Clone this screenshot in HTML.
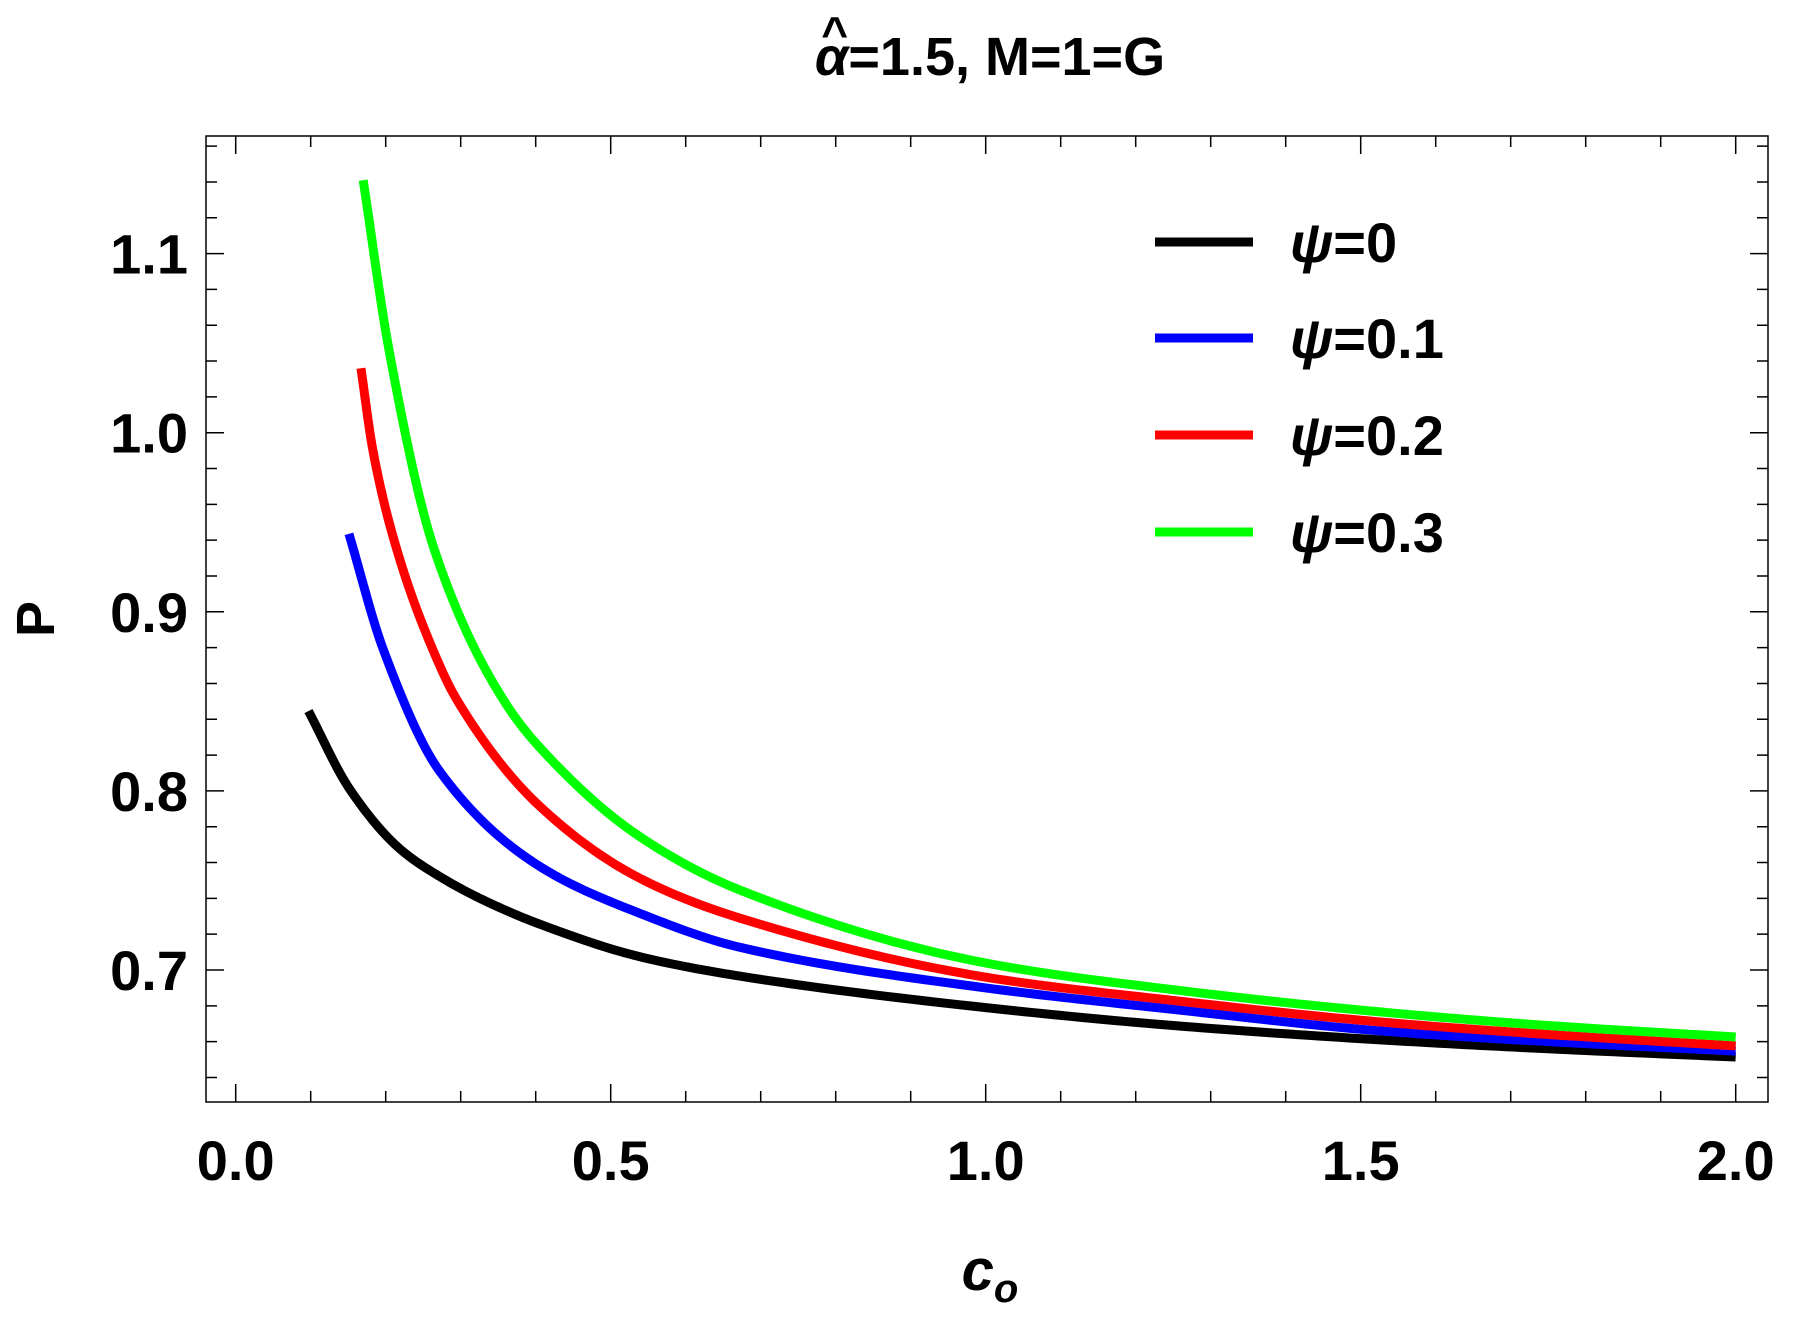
<!DOCTYPE html>
<html><head><meta charset="utf-8"><style>
body{margin:0;background:#fff}
svg{display:block}
text{font-family:"Liberation Sans",Arial,sans-serif;font-weight:bold;fill:#000}
</style></head><body>
<svg id="chart" width="1797" height="1324" viewBox="0 0 1797 1324" xmlns="http://www.w3.org/2000/svg">
<rect x="0" y="0" width="1797" height="1324" fill="#fff"/>
<g>
<text id="ttl" x="990" y="75" font-size="54" text-anchor="middle"><tspan font-style="italic">α</tspan>=1.5, M=1=G</text>
<text id="hat" x="818" y="52" font-size="46" text-anchor="middle">^</text>
</g>
<text transform="translate(54,619) rotate(-90)" font-size="54" text-anchor="middle">P</text>
<text x="990" y="1290" font-size="58" text-anchor="middle" font-style="italic">c<tspan font-size="40" dy="12">o</tspan></text>
<g id="axes"></g>
<g id="series"></g>
<g id="legend"></g>
</svg>
<script>
const xTicks=[0,0.5,1.0,1.5,2.0];
const xTickLabels=["0.0","0.5","1.0","1.5","2.0"];
const yTicks=[0.7,0.8,0.9,1.0,1.1];
const yTickLabels=["0.7","0.8","0.9","1.0","1.1"];
const seriesNames=["ψ=0","ψ=0.1","ψ=0.2","ψ=0.3"];
const seriesColors=["#000000","#0000ff","#ff0000","#00ff00"];
const cBlack=[0.097,0.152,0.219,0.2724,0.330,0.406,0.539,0.672,1.0,1.25,1.526,1.75,2.0];
const pBlack=[0.8446,0.801,0.7676,0.7521,0.7391,0.7255,0.7074,0.6966,0.679,0.669,0.661,0.656,0.6514];
const cBlue=[0.151,0.197,0.2724,0.406,0.539,0.672,1.0,1.25,1.526,1.75,2.0];
const pBlue=[0.9435,0.8787,0.8107,0.7577,0.7316,0.7127,0.690,0.678,0.666,0.660,0.6547];
const cRed=[0.167,0.183,0.215,0.263,0.295,0.406,0.539,0.672,1.0,1.25,1.526,1.75,2.0];
const pRed=[1.036,0.990,0.9345,0.8787,0.8508,0.7912,0.7512,0.729,0.696,0.683,0.671,0.664,0.6576];
const cGreen=[0.170,0.2045,0.265,0.357,0.406,0.539,0.672,1.0,1.25,1.526,1.75,2.0];
const pGreen=[1.141,1.046,0.9345,0.8508,0.824,0.7744,0.7447,0.7039,0.689,0.6766,0.669,0.6626];

const NS="http://www.w3.org/2000/svg";
const L=206,R=1768,T=136,B=1102;
const X=v=>235.7+v*750;
const Y=v=>970-(v-0.7)*1791;
function mk(tag,attrs,parent){const e=document.createElementNS(NS,tag);for(const k in attrs)e.setAttribute(k,attrs[k]);parent.appendChild(e);return e;}
try{const ttl=document.getElementById('ttl');const ex=ttl.getExtentOfChar(0);const hat=document.getElementById('hat');hat.setAttribute('x',ex.x+ex.width/2+3);hat.setAttribute('y',ex.y+22);}catch(e){}
const axes=document.getElementById('axes');
const fr=mk('rect',{x:L,y:T,width:R-L,height:B-T,fill:'none',stroke:'#000','stroke-width':1.5},axes);


for(let i=0;i<=20;i++){const v=i*0.1;const x=X(v);const major=i%5===0;const len=major?18:11;
 const t=mk('path',{d:`M${x},${B}v${-len}M${x},${T}v${len}`,stroke:'#000','stroke-width':1.5},axes);
 
 }
xTicks.forEach((v,i)=>{const t=mk('text',{x:X(v),y:1180,'font-size':56,'text-anchor':'middle'},axes);t.textContent=xTickLabels[i];
 
 });
for(let i=0;i<=26;i++){const v=0.64+i*0.02;const y=Y(v);if(y<T||y>B)continue;const major=(i-3)%5===0;const len=major?18:11;
 const t=mk('path',{d:`M${L},${y}h${len}M${R},${y}h${-len}`,stroke:'#000','stroke-width':1.5},axes);
 
 }
yTicks.forEach((v,i)=>{const t=mk('text',{x:188,y:Y(v)+20,'font-size':56,'text-anchor':'end'},axes);t.textContent=yTickLabels[i];
 
 });
function pathFor(xs,ys){const n=xs.length;const d=[],m=new Array(n);
 for(let i=0;i<n-1;i++)d.push((ys[i+1]-ys[i])/(xs[i+1]-xs[i]));
 m[0]=d[0];m[n-1]=d[n-2];
 for(let i=1;i<n-1;i++){if(d[i-1]*d[i]<=0)m[i]=0;else{const w1=2*(xs[i+1]-xs[i])+(xs[i]-xs[i-1]),w2=(xs[i+1]-xs[i])+2*(xs[i]-xs[i-1]);m[i]=(w1+w2)/(w1/d[i-1]+w2/d[i]);}}
 let s=`M${X(xs[0])},${Y(ys[0])}`;
 for(let i=0;i<n-1;i++){const h=xs[i+1]-xs[i];
  for(let k=1;k<=20;k++){const t=k/20,t2=t*t,t3=t2*t;
   const y=(2*t3-3*t2+1)*ys[i]+(t3-2*t2+t)*h*m[i]+(-2*t3+3*t2)*ys[i+1]+(t3-t2)*h*m[i+1];
   s+=`L${X(xs[i]+t*h).toFixed(2)},${Y(y).toFixed(2)}`;}}
 return s;}
const sg=document.getElementById('series');
const data=[[cBlack,pBlack],[cBlue,pBlue],[cRed,pRed],[cGreen,pGreen]];
const snames=['series-psi-0','series-psi-0-1','series-psi-0-2','series-psi-0-3'];
data.forEach((d,i)=>{const p=mk('path',{d:pathFor(d[0],d[1]),fill:'none',stroke:seriesColors[i],'stroke-width':9,'stroke-linejoin':'round'},sg);
 
 });
const lg=document.getElementById('legend');
const ly=[242,338,435,532];
seriesNames.forEach((n,i)=>{const g=mk('g',{},lg);
 
 
 mk('line',{x1:1155,x2:1253,y1:ly[i],y2:ly[i],stroke:seriesColors[i],'stroke-width':9},g);
 const t=mk('text',{x:1290,y:ly[i]+20,'font-size':56},g);
 const ts=mk('tspan',{'font-style':'italic'},t);ts.textContent='ψ';
 t.appendChild(document.createTextNode(n.slice(1)));});
</script>
</body></html>
